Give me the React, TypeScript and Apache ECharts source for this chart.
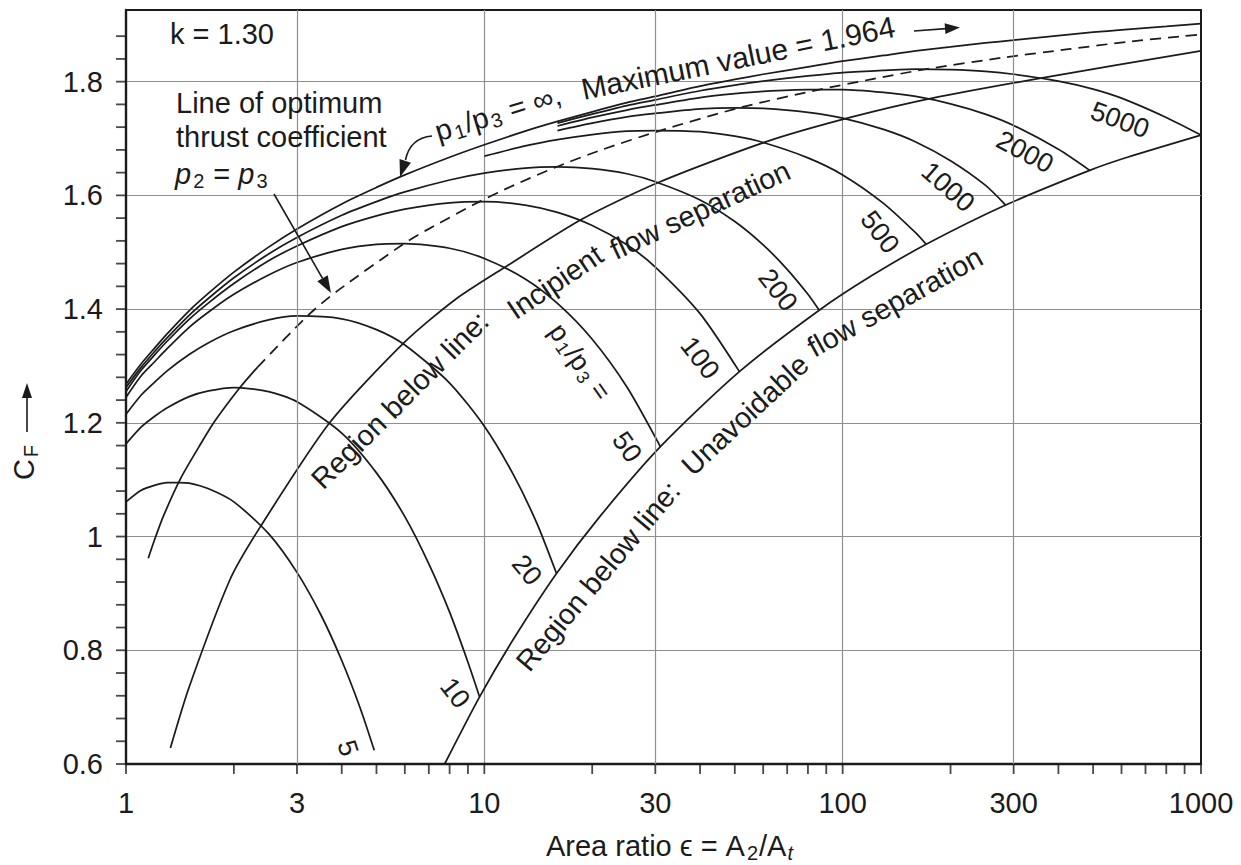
import React, { useEffect, useRef } from 'react';
import * as echarts from 'echarts';

const FONT = '"Liberation Sans", Arial, Helvetica, sans-serif';
const INK = '#1b1b1b';
const GRID = '#8f8f8f';

// ---- curves: area ratio ε (x) and thrust coefficient C_F (y) ----
const epsInf = [1, 1.1, 1.2, 1.3, 1.5, 1.7, 2, 2.5, 3, 4, 5, 6, 8, 10, 13, 16, 20, 25, 30, 40, 50, 60, 80, 100, 130, 160, 200, 250, 300, 400, 500, 600, 800, 1000];
const cfInf = [1.268, 1.303, 1.331, 1.356, 1.397, 1.428, 1.465, 1.509, 1.541, 1.585, 1.614, 1.636, 1.667, 1.689, 1.713, 1.730, 1.747, 1.763, 1.774, 1.792, 1.804, 1.813, 1.826, 1.836, 1.846, 1.854, 1.861, 1.868, 1.873, 1.881, 1.887, 1.891, 1.897, 1.902];

const eps5000 = [16, 20, 25, 30, 40, 50, 60, 80, 100, 130, 160, 200, 250, 300, 400, 500, 600, 800, 1000];
const cf5000 = [1.727, 1.743, 1.758, 1.768, 1.784, 1.794, 1.801, 1.810, 1.816, 1.820, 1.822, 1.821, 1.818, 1.813, 1.801, 1.787, 1.771, 1.737, 1.706];

const eps2000 = [16, 20, 25, 30, 40, 50, 60, 80, 100, 130, 160, 200, 250, 300, 400, 489];
const cf2000 = [1.722, 1.737, 1.750, 1.759, 1.772, 1.779, 1.783, 1.786, 1.786, 1.781, 1.774, 1.761, 1.743, 1.723, 1.681, 1.644];

const eps1000 = [16, 20, 25, 30, 40, 50, 60, 80, 100, 130, 160, 200, 250, 285];
const cf1000 = [1.714, 1.727, 1.738, 1.744, 1.752, 1.754, 1.753, 1.746, 1.736, 1.716, 1.694, 1.661, 1.618, 1.583];

const eps500 = [10, 13, 16, 20, 25, 30, 40, 50, 60, 80, 100, 130, 160, 171];
const cf500 = [1.669, 1.687, 1.698, 1.707, 1.713, 1.714, 1.712, 1.704, 1.693, 1.666, 1.636, 1.586, 1.534, 1.514];

const eps200 = [1, 1.1, 1.2, 1.3, 1.5, 1.7, 2, 2.5, 3, 4, 5, 6, 8, 10, 13, 16, 20, 25, 30, 40, 50, 60, 70, 80, 86];
const cf200 = [1.262, 1.297, 1.325, 1.349, 1.389, 1.419, 1.455, 1.497, 1.526, 1.565, 1.589, 1.606, 1.627, 1.639, 1.648, 1.650, 1.647, 1.638, 1.624, 1.592, 1.554, 1.513, 1.470, 1.426, 1.398];

const eps100 = [1, 1.1, 1.2, 1.3, 1.5, 1.7, 2, 2.5, 3, 4, 5, 6, 8, 10, 13, 16, 20, 25, 30, 40, 51.5];
const cf100 = [1.255, 1.292, 1.319, 1.343, 1.382, 1.411, 1.445, 1.485, 1.511, 1.545, 1.564, 1.576, 1.587, 1.589, 1.583, 1.570, 1.547, 1.513, 1.474, 1.392, 1.290];

const eps50 = [1, 1.1, 1.2, 1.3, 1.5, 1.7, 2, 2.5, 3, 4, 5, 6, 8, 10, 13, 16, 20, 25, 31];
const cf50 = [1.245, 1.282, 1.307, 1.330, 1.368, 1.395, 1.426, 1.460, 1.482, 1.505, 1.514, 1.515, 1.507, 1.489, 1.453, 1.410, 1.347, 1.263, 1.158];

const eps20 = [1, 1.1, 1.2, 1.3, 1.5, 1.7, 2, 2.5, 3, 4, 5, 6, 8, 10, 12, 14, 15.9];
const cf20 = [1.215, 1.248, 1.271, 1.291, 1.320, 1.341, 1.362, 1.381, 1.388, 1.383, 1.364, 1.337, 1.270, 1.194, 1.111, 1.024, 0.935];

const eps10 = [1, 1.1, 1.2, 1.3, 1.5, 1.7, 2, 2.5, 3, 4, 5, 6, 7, 8, 9, 9.7];
const cf10 = [1.163, 1.192, 1.211, 1.226, 1.246, 1.256, 1.262, 1.255, 1.237, 1.182, 1.112, 1.035, 0.952, 0.867, 0.779, 0.718];

const eps5 = [1, 1.1, 1.2, 1.3, 1.4, 1.5, 1.7, 2, 2.5, 3, 3.5, 4, 4.5, 4.93];
const cf5 = [1.061, 1.081, 1.090, 1.095, 1.095, 1.094, 1.084, 1.061, 1.005, 0.937, 0.862, 0.782, 0.699, 0.624];

// line of optimum thrust coefficient (p2 = p3): solid lower part, dashed upper part
const epsOptSolid = [1.154, 1.19, 1.27, 1.42, 1.62, 1.77, 2.08, 2.33];
const cfOptSolid = [0.962, 0.987, 1.035, 1.102, 1.164, 1.203, 1.262, 1.298];
const epsOptDashed = [2.33, 3.22, 3.89, 5.96, 6.86, 9.69, 12.1, 15.9, 21, 31, 51.5, 86, 120, 171, 285, 426, 623, 895, 1000];
const cfOptDashed = [1.298, 1.389, 1.432, 1.515, 1.538, 1.589, 1.618, 1.650, 1.679, 1.714, 1.754, 1.786, 1.804, 1.822, 1.843, 1.857, 1.870, 1.880, 1.883];

// separation boundaries
const epsIncipient = [1.33, 1.5, 1.95, 2.37, 3.7, 5.97, 8.3, 11.5, 18.7, 30.7, 61, 105, 178, 371, 1000];
const cfIncipient = [0.628, 0.735, 0.924, 1.017, 1.200, 1.341, 1.417, 1.475, 1.558, 1.623, 1.694, 1.737, 1.771, 1.808, 1.854];
const epsUnavoidable = [7.75, 9.7, 12.1, 15.9, 21, 31, 51.5, 86, 120, 171, 285, 489, 623, 1000];
const cfUnavoidable = [0.600, 0.718, 0.821, 0.935, 1.035, 1.158, 1.290, 1.398, 1.458, 1.514, 1.583, 1.644, 1.667, 1.706];

// ---- axis ticks ----
const xTickValues = [1, 2, 3, 4, 5, 6, 7, 8, 9, 10, 20, 30, 40, 50, 60, 70, 80, 90, 100, 200, 300, 400, 500, 600, 700, 800, 900, 1000];
const xExtraGrid = [3, 30, 300];
const yTickValues = [0.6, 0.64, 0.68, 0.72, 0.76, 0.8, 0.84, 0.88, 0.92, 0.96, 1, 1.04, 1.08, 1.12, 1.16, 1.2, 1.24, 1.28, 1.32, 1.36, 1.4, 1.44, 1.48, 1.52, 1.56, 1.6, 1.64, 1.68, 1.72, 1.76, 1.8, 1.84, 1.88];

const zip = (xs: number[], ys: number[]) => xs.map((x, i) => [x, ys[i]]);

function curve(name: string, xs: number[], ys: number[], dashed = false) {
  return {
    type: 'line', name, data: zip(xs, ys), showSymbol: false, symbol: 'none', smooth: 0.25,
    silent: true, z: 4, clip: true,
    lineStyle: { color: INK, width: 1.75, type: dashed ? [11, 7] : 'solid' },
  };
}

const deg = (d: number) => (d * Math.PI) / 180;

function richSet(size: number) {
  const sub = Math.round(size * 0.68);
  return {
    n: { fontSize: size, fontFamily: FONT, fill: INK, lineHeight: size + 4 },
    i: { fontSize: size, fontFamily: FONT, fontStyle: 'italic', fill: INK, lineHeight: size + 4 },
    s: { fontSize: sub, fontFamily: FONT, fill: INK, verticalAlign: 'bottom', lineHeight: Math.round(size * 0.55), padding: [0, 1, 0, 2] },
    si: { fontSize: sub, fontFamily: FONT, fontStyle: 'italic', fill: INK, verticalAlign: 'bottom', lineHeight: Math.round(size * 0.55), padding: [0, 1, 0, 1] },
  };
}

function label(x: number, y: number, text: string, size: number, rot = 0, align = 'center', rich = false) {
  return {
    type: 'text', x, y, rotation: deg(rot), silent: true, z: 20,
    style: {
      text, fontSize: size, fontFamily: FONT, fill: INK, align, verticalAlign: 'middle',
      ...(rich ? { rich: richSet(size) } : {}),
    },
  };
}

function arrowHead(tipX: number, tipY: number, fromX: number, fromY: number, len = 16, half = 5.5) {
  const dx = tipX - fromX, dy = tipY - fromY;
  const d = Math.hypot(dx, dy);
  const ux = dx / d, uy = dy / d;
  const bx = tipX - ux * len, by = tipY - uy * len;
  return {
    type: 'polygon', silent: true, z: 20,
    shape: { points: [[tipX, tipY], [bx - uy * half, by + ux * half], [bx + uy * half, by - ux * half]] },
    style: { fill: INK },
  };
}

function seg(x1: number, y1: number, x2: number, y2: number) {
  return { type: 'line', silent: true, z: 20, shape: { x1, y1, x2, y2 }, style: { stroke: INK, lineWidth: 1.6 } };
}

export default function App() {
  const ref = useRef<HTMLDivElement>(null);
  useEffect(() => {
    const chart = echarts.init(ref.current as HTMLDivElement, null, { renderer: 'svg' });
    const axisText = { fontSize: 29, fontFamily: FONT, color: INK };
    const option: any = {
      animation: false,
      backgroundColor: '#ffffff',
      grid: { left: 126, top: 10, width: 1075, height: 754, show: true, borderColor: INK, borderWidth: 2, backgroundColor: 'transparent' },
      xAxis: {
        type: 'log', logBase: 10, min: 1, max: 1000,
        axisLine: { show: true, onZero: false, lineStyle: { color: INK, width: 2.4 } },
        axisTick: { show: false },
        axisLabel: { ...axisText, margin: 24, formatter: (v: number) => String(Math.round(v)) },
        splitLine: { show: true, showMinLine: false, showMaxLine: false, lineStyle: { color: GRID, width: 1.2 } },
      },
      yAxis: {
        type: 'value', min: 0.6, max: 1.926, interval: 0.2,
        axisLine: { show: true, onZero: false, lineStyle: { color: INK, width: 2.4 } },
        axisTick: { show: false },
        axisLabel: {
          ...axisText, margin: 23, showMaxLabel: false,
          formatter: (v: number) => {
            const r = Math.round(v * 10) / 10;
            return Math.abs(r - v) < 1e-6 && Math.abs(Math.round(v * 5) - v * 5) < 1e-6 ? String(r) : '';
          },
        },
        splitLine: { show: true, showMinLine: false, showMaxLine: false, lineStyle: { color: GRID, width: 1.2 } },
      },
      series: [
        {
          type: 'line', name: 'grid', data: [[1, 0.6]], showSymbol: false, symbol: 'none', silent: true, z: 1,
          lineStyle: { opacity: 0 },
          markLine: {
            silent: true, symbol: ['none', 'none'], animation: false,
            lineStyle: { color: GRID, width: 1.2, type: 'solid' },
            label: { show: true, position: 'start', distance: 24, formatter: '{c}', fontSize: 29, fontFamily: FONT, color: INK },
            emphasis: { disabled: true },
            data: xExtraGrid.map((v) => ({ xAxis: v })),
          },
        },
        curve('p1/p3 = ∞', epsInf, cfInf),
        curve('5000', eps5000, cf5000),
        curve('2000', eps2000, cf2000),
        curve('1000', eps1000, cf1000),
        curve('500', eps500, cf500),
        curve('200', eps200, cf200),
        curve('100', eps100, cf100),
        curve('50', eps50, cf50),
        curve('20', eps20, cf20),
        curve('10', eps10, cf10),
        curve('5', eps5, cf5),
        curve('optimum', epsOptSolid, cfOptSolid),
        curve('optimum (dashed)', epsOptDashed, cfOptDashed, true),
        curve('incipient separation', epsIncipient, cfIncipient),
        curve('unavoidable separation', epsUnavoidable, cfUnavoidable),
        {
          type: 'scatter', name: 'xticks', data: xTickValues.map((v) => [v, 0.6]), symbol: 'rect',
          symbolSize: [1.8, 10], symbolOffset: [0, 5], itemStyle: { color: INK }, silent: true, clip: false, z: 6,
        },
        {
          type: 'scatter', name: 'yticks', data: yTickValues.map((v) => [1, v]), symbol: 'rect',
          symbolSize: [10, 1.8], symbolOffset: [-5, 0], itemStyle: { color: INK }, silent: true, clip: false, z: 6,
        },
      ],
      graphic: [
        label(170, 34, 'k = 1.30', 29, 0, 'left'),
        label(176, 103, 'Line of optimum', 29, 0, 'left'),
        label(176, 137, 'thrust coefficient', 29, 0, 'left'),
        label(175, 174, '{i|p}{s|2}{n| = }{i|p}{s|3}', 29, 0, 'left', true),
        seg(274, 194, 322.5, 278.3),
        arrowHead(331, 293, 274, 194, 17, 6),
        label(498, 113, '{n|p}{s|1}{n|/p}{s|3}{n| = ∞,}', 29, 17, 'center', true),
        label(738, 58, 'Maximum value = 1.964', 30, 11.5),
        seg(914, 31, 946, 28.6),
        arrowHead(960, 27.5, 914, 31, 15, 5.5),
        { type: 'bezierCurve', silent: true, z: 20, shape: { x1: 432, y1: 136, cpx1: 410, cpy1: 138, x2: 405.5, y2: 160 }, style: { stroke: INK, lineWidth: 1.6, fill: 'none' } },
        arrowHead(400, 177, 405.5, 160, 17, 6),
        label(400, 400, 'Region below line:', 29, 45),
        label(555, 282, 'Incipient', 29, 34),
        label(700, 210, 'flow separation', 29, 25),
        label(598, 576, 'Region below line:', 29, 50),
        label(745, 415, 'Unavoidable', 29, 43),
        label(895, 302, 'flow separation', 29, 29),
        label(1120, 120, '5000', 27, -20),
        label(1025, 152, '2000', 27, -28),
        label(948, 187, '1000', 27, -41),
        label(880, 232, '500', 27, -53),
        label(778, 290, '200', 27, -52),
        label(700, 358, '100', 27, -52),
        label(580, 362, '{n|p}{s|1}{n|/p}{s|3}{n| =}', 27, -55, 'center', true),
        label(627, 447, '50', 27, -55),
        label(527, 570, '20', 27, -50),
        label(455, 693, '10', 27, -52),
        label(348, 748, '5', 27, -72),
        label(670, 846, '{n|Area ratio ϵ = A}{s|2}{n|/A}{si|t}', 29, 0, 'center', true),
        label(24, 462, '{n|C}{s|F}', 29, 90, 'center', true),
        seg(27, 432, 27, 398),
        arrowHead(27, 383, 27, 432, 15, 5),
      ],
    };
    chart.setOption(option);
    return () => chart.dispose();
  }, []);
  return (
    <div
      ref={ref}
      style={{ position: 'fixed', left: 0, top: 0, width: 1241, height: 865, background: '#ffffff' }}
    />
  );
}
